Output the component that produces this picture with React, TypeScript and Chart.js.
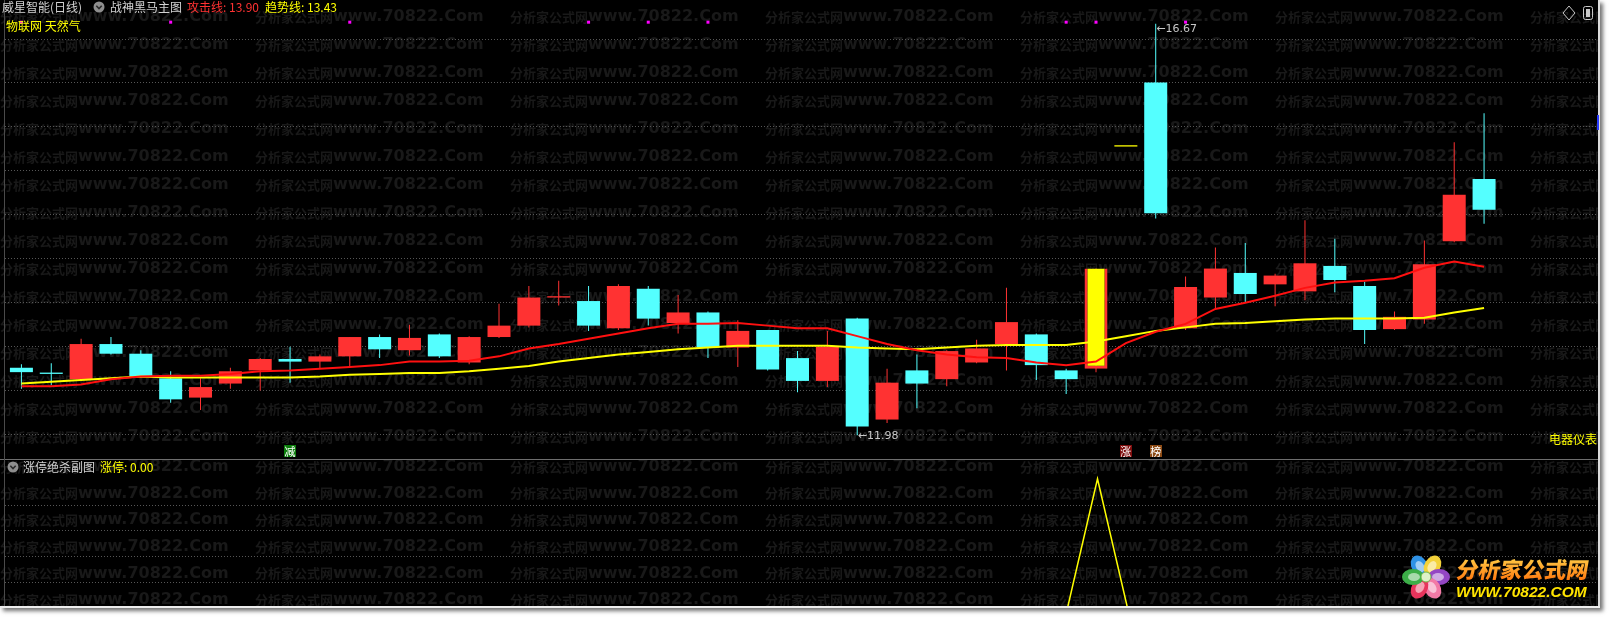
import React, { useEffect, useRef } from "react";
import { Chart, registerables } from "chart.js";

Chart.register(...registerables);

// ---------------- data ----------------
const stockTitle = "威星智能(日线)";
const mainIndicatorName = "战神黑马主图";
const subIndicatorName = "涨停绝杀副图";
const conceptTags = "物联网 天然气";
const industryTag = "电器仪表";

const opens = [12.75, 12.69, 12.62, 13.02, 12.91, 12.63, 12.41, 12.57, 12.72, 12.85, 12.82, 12.88, 13.10, 12.95, 13.13, 12.81, 13.10, 13.23, 13.55, 13.51, 13.20, 13.65, 13.26, 13.38, 12.98, 13.18, 12.86, 12.60, 13.31, 12.16, 12.72, 12.62, 12.81, 13.02, 13.13, 12.72, 12.74, 15.27, 16.00, 13.20, 13.55, 13.83, 13.70, 13.62, 13.91, 13.68, 13.19, 13.30, 14.19, 14.90];
const highs = [12.79, 12.80, 13.08, 13.10, 12.95, 12.71, 12.63, 12.75, 12.86, 12.99, 12.90, 13.10, 13.13, 13.24, 13.14, 13.11, 13.48, 13.68, 13.74, 13.68, 13.70, 13.68, 13.58, 13.39, 13.29, 13.18, 12.94, 13.17, 13.32, 12.74, 12.90, 12.95, 13.07, 13.66, 13.14, 12.74, 13.88, 15.27, 16.67, 13.79, 14.12, 14.17, 13.82, 14.43, 14.22, 13.73, 13.39, 14.20, 15.32, 15.65];
const lows = [12.51, 12.55, 12.60, 12.90, 12.64, 12.35, 12.27, 12.51, 12.49, 12.58, 12.74, 12.75, 12.86, 12.89, 12.86, 12.79, 13.09, 13.21, 13.46, 13.17, 13.18, 13.23, 13.14, 12.86, 12.76, 12.72, 12.47, 12.53, 11.98, 12.12, 12.29, 12.54, 12.80, 12.72, 12.61, 12.45, 12.70, 15.27, 14.45, 13.18, 13.42, 13.50, 13.45, 13.52, 13.61, 13.02, 13.18, 13.25, 14.18, 14.39];
const closes = [12.70, 12.68, 13.02, 12.91, 12.65, 12.39, 12.53, 12.71, 12.85, 12.82, 12.88, 13.10, 12.96, 13.09, 12.88, 13.10, 13.23, 13.55, 13.56, 13.23, 13.68, 13.31, 13.38, 12.98, 13.17, 12.73, 12.60, 12.99, 12.08, 12.58, 12.57, 12.94, 12.97, 13.27, 12.78, 12.62, 13.88, 15.27, 14.51, 13.67, 13.88, 13.59, 13.80, 13.94, 13.75, 13.18, 13.33, 13.93, 14.72, 14.55];

// 攻击线 (red) and 趋势线 (yellow)
const attackLine = [12.54, 12.54, 12.56, 12.62, 12.65, 12.66, 12.66, 12.68, 12.71, 12.72, 12.74, 12.76, 12.78, 12.82, 12.82, 12.83, 12.88, 12.97, 13.02, 13.08, 13.14, 13.20, 13.25, 13.25, 13.26, 13.23, 13.20, 13.20, 13.11, 13.02, 12.95, 12.90, 12.87, 12.86, 12.81, 12.78, 12.82, 13.03, 13.16, 13.25, 13.42, 13.49, 13.57, 13.66, 13.72, 13.74, 13.77, 13.89, 13.96, 13.90];
const trendLine = [12.57, 12.59, 12.61, 12.63, 12.65, 12.64, 12.64, 12.64, 12.64, 12.64, 12.65, 12.67, 12.68, 12.69, 12.69, 12.71, 12.74, 12.77, 12.82, 12.86, 12.90, 12.93, 12.96, 12.98, 13.00, 13.00, 13.00, 13.00, 12.98, 12.97, 12.96, 12.98, 13.00, 13.01, 13.01, 13.01, 13.05, 13.11, 13.17, 13.21, 13.25, 13.26, 13.28, 13.30, 13.31, 13.31, 13.31, 13.32, 13.38, 13.43];

// 涨停 sub-chart values
const limitUpFlags = [0, 0, 0, 0, 0, 0, 0, 0, 0, 0, 0, 0, 0, 0, 0, 0, 0, 0, 0, 0, 0, 0, 0, 0, 0, 0, 0, 0, 0, 0, 0, 0, 0, 0, 0, 0, 1, 0, 0, 0, 0, 0, 0, 0, 0, 0, 0, 0, 0, 0];

const signalDays = [0, 5, 11, 19, 21, 23, 35, 36, 39];
const limitUpDays = [36, 37];
const tagDays = [9, 37, 38];
const tagTexts = ["减", "涨", "榜"];
const tagColors = ["#0b7d0b", "#7d0c0c", "#8c4a14"];
const priceGridLevels = [12, 12.5, 13, 13.5, 14, 14.5, 15, 15.5, 16, 16.5];
const subGridLevels = [0.2, 0.4, 0.6, 0.8];

// ---------------- layout / style ----------------
const W = 1600;
const TOP_H = 459;
const BOT_H = 148;
const STEP = 30;
const FIRST_X = 17.5;
const X_MIN = -FIRST_X / STEP;
const X_MAX = (W - FIRST_X) / STEP;
const PRICE_PAD = 20;
const SIGNAL_LEVEL = 0.9597;
const SUB_MAX = 1.1455;

const RED = "#FF3232";
const CYAN = "#54FFFF";
const YELLOW = "#FFFF00";
const MAGENTA = "#FF00FF";
const GRID = "#565656";
const WM = "#191919";
const CJK = '"Noto Sans CJK SC", "Noto Sans", sans-serif';

const priceLow = Math.min(...lows);
const priceHigh = Math.max(...highs);
const pxPerUnit = (TOP_H - 2 * PRICE_PAD) / (priceHigh - priceLow);
const Y_MIN = priceLow - PRICE_PAD / pxPerUnit;
const Y_MAX = priceHigh + PRICE_PAD / pxPerUnit;

function drawWatermark(ctx: CanvasRenderingContext2D, rowStart: number, rowStep: number, rows: number) {
  ctx.save();
  ctx.fillStyle = WM;
  ctx.textBaseline = "middle";
  ctx.textAlign = "left";
  for (let r = 0; r < rows; r++) {
    for (let c = 0; c < 7; c++) {
      const x = c * 255;
      const y = rowStart + r * rowStep;
      ctx.font = `bold 13px ${CJK}`;
      ctx.fillText("分析家公式网", x, y);
      ctx.font = 'bold 16px "DejaVu Sans", sans-serif';
      ctx.fillText("www.70822.Com", x + 78, y);
    }
  }
  ctx.restore();
}

function drawDotted(ctx: CanvasRenderingContext2D, ys: number[]) {
  ctx.save();
  ctx.strokeStyle = GRID;
  ctx.lineWidth = 1;
  ctx.setLineDash([1, 2]);
  ys.forEach((y) => {
    const yy = Math.round(y) + 0.5;
    ctx.beginPath();
    ctx.moveTo(5, yy);
    ctx.lineTo(1598, yy);
    ctx.stroke();
  });
  ctx.restore();
}

function Txt(props: { x: number; top: number; color: string; size?: number; right?: boolean; children: React.ReactNode }) {
  const size = props.size || 12;
  const style: React.CSSProperties = {
    position: "absolute",
    top: props.top,
    color: props.color,
    fontSize: size,
    lineHeight: `${size}px`,
    fontFamily: CJK,
    whiteSpace: "nowrap",
  };
  if (props.right) style.right = W - props.x;
  else style.left = props.x;
  return <div style={style}>{props.children}</div>;
}

function CircleIcon({ x, y }: { x: number; y: number }) {
  return (
    <svg style={{ position: "absolute", left: x - 6, top: y - 6 }} width={12} height={12}>
      <circle cx={6} cy={6} r={5.5} fill="#8e8e8e" />
      <polyline points="3.3,4.8 6,7.5 8.7,4.8" fill="none" stroke="#2a2a2a" strokeWidth={1.6} />
    </svg>
  );
}

const petals = [
  { a: -120, c: "#2f92e6" },
  { a: -60, c: "#f4d23a" },
  { a: 0, c: "#9446c4" },
  { a: 60, c: "#f27aa6" },
  { a: 120, c: "#e8345c" },
  { a: 180, c: "#3cae48" },
];

export default function App() {
  const topRef = useRef<HTMLCanvasElement>(null);
  const botRef = useRef<HTMLCanvasElement>(null);

  useEffect(() => {
    document.body.style.margin = "0";
    const colorOf = (i: number) =>
      limitUpDays.includes(i) ? YELLOW : closes[i] >= opens[i] ? RED : CYAN;
    const wickColorOf = (i: number) => (limitUpDays.includes(i) ? RED : colorOf(i));

    const topPlugin = {
      id: "topDecor",
      beforeDraw(chart: any) {
        const ctx = chart.ctx as CanvasRenderingContext2D;
        ctx.save();
        ctx.fillStyle = "#000";
        ctx.fillRect(0, 0, chart.width, chart.height);
        ctx.restore();
        drawWatermark(ctx, 16.7, 28, 16);
        const ys = chart.scales.y;
        drawDotted(ctx, priceGridLevels.map((v) => ys.getPixelForValue(v)));
      },
      afterDatasetsDraw(chart: any) {
        const ctx = chart.ctx as CanvasRenderingContext2D;
        const xs = chart.scales.x;
        const ys = chart.scales.y;
        ctx.save();
        ctx.font = '11px "DejaVu Sans", sans-serif';
        ctx.fillStyle = "#C8C8C8";
        ctx.textBaseline = "middle";
        ctx.textAlign = "left";
        const li = lows.indexOf(priceLow);
        ctx.fillText("←" + priceLow.toFixed(2), xs.getPixelForValue(li) + 0.5, ys.getPixelForValue(priceLow) + 1);
        const hi = highs.indexOf(priceHigh);
        ctx.fillText("←" + priceHigh.toFixed(2), xs.getPixelForValue(hi) + 0.5, ys.getPixelForValue(priceHigh) + 5);
        ctx.font = `11px ${CJK}`;
        ctx.textAlign = "center";
        tagDays.forEach((d, k) => {
          const x = xs.getPixelForValue(d);
          const y = chart.height - 8;
          ctx.fillStyle = tagColors[k];
          ctx.fillRect(Math.round(x - 6), Math.round(y - 6), 12, 12);
          ctx.fillStyle = "#ffffff";
          ctx.fillText(tagTexts[k], x, y + 0.5);
        });
        ctx.restore();
      },
    };

    const top = new Chart(topRef.current as HTMLCanvasElement, {
      type: "bar",
      data: {
        datasets: [
          {
            type: "line",
            label: "攻击线",
            data: attackLine.map((v, i) => ({ x: i, y: v })),
            borderColor: "#FF1010",
            borderWidth: 2,
            pointRadius: 0,
            tension: 0,
            order: 0,
          },
          {
            type: "line",
            label: "趋势线",
            data: trendLine.map((v, i) => ({ x: i, y: v })),
            borderColor: YELLOW,
            borderWidth: 2,
            pointRadius: 0,
            tension: 0,
            order: 1,
          },
          {
            type: "scatter",
            label: "signal",
            yAxisID: "ysig",
            data: signalDays.map((d) => ({ x: d, y: SIGNAL_LEVEL })),
            pointStyle: "rect",
            pointRadius: 2.13,
            backgroundColor: MAGENTA,
            borderWidth: 0,
            order: 0,
          },
          {
            type: "bar",
            label: "body",
            data: opens.map((o, i) => ({ x: i, y: [o, closes[i]] })),
            backgroundColor: opens.map((_, i) => colorOf(i)),
            borderColor: opens.map((_, i) => (i === limitUpDays[0] ? RED : colorOf(i))),
            borderWidth: (c: any) =>
              c.dataIndex === limitUpDays[0] ? { top: 0, left: 3, right: 3, bottom: 3 } : 0,
            borderSkipped: false,
            barThickness: 23,
            minBarLength: 1.3,
            grouped: false,
            inflateAmount: 0,
            order: 2,
          },
          {
            type: "bar",
            label: "wick",
            data: lows.map((l, i) => ({ x: i, y: [l, highs[i]] })),
            backgroundColor: lows.map((_, i) => wickColorOf(i)),
            borderWidth: 0,
            barThickness: 1,
            grouped: false,
            inflateAmount: 0,
            order: 3,
          },
        ] as any,
      },
      options: {
        animation: false,
        responsive: false,
        maintainAspectRatio: false,
        events: [],
        layout: { padding: 0 },
        plugins: { legend: { display: false }, tooltip: { enabled: false } },
        scales: {
          x: { type: "linear", min: X_MIN, max: X_MAX, display: false, offset: false },
          y: { type: "linear", min: Y_MIN, max: Y_MAX, display: false },
          ysig: { type: "linear", min: 0, max: 1, display: false },
        },
      } as any,
      plugins: [topPlugin],
    });

    const botPlugin = {
      id: "botDecor",
      beforeDraw(chart: any) {
        const ctx = chart.ctx as CanvasRenderingContext2D;
        ctx.save();
        ctx.fillStyle = "#000";
        ctx.fillRect(0, 0, chart.width, chart.height);
        ctx.restore();
        drawWatermark(ctx, 6.7, 26.7, 6);
        const ys = chart.scales.y;
        drawDotted(ctx, subGridLevels.map((v) => ys.getPixelForValue(v)));
      },
    };

    const bot = new Chart(botRef.current as HTMLCanvasElement, {
      type: "line",
      data: {
        datasets: [
          {
            label: "涨停",
            data: limitUpFlags.map((v, i) => ({ x: i, y: v })),
            borderColor: YELLOW,
            borderWidth: 1.5,
            pointRadius: 0,
            tension: 0,
          },
        ],
      },
      options: {
        animation: false,
        responsive: false,
        maintainAspectRatio: false,
        events: [],
        layout: { padding: 0 },
        plugins: { legend: { display: false }, tooltip: { enabled: false } },
        scales: {
          x: { type: "linear", min: X_MIN, max: X_MAX, display: false, offset: false },
          y: { type: "linear", min: 0, max: SUB_MAX, display: false },
        },
      } as any,
      plugins: [botPlugin],
    });

    return () => {
      top.destroy();
      bot.destroy();
    };
  }, []);

  const last = attackLine.length - 1;

  return (
    <div style={{ position: "absolute", left: 0, top: 0, width: 1609, height: 617, background: "#ffffff", overflow: "hidden" }}>
      <div
        style={{
          position: "absolute",
          left: 0,
          top: 0,
          width: W,
          height: 608,
          background: "#000",
          boxShadow: "3px 3px 4px rgba(0,0,0,0.55)",
        }}
      >
        <canvas ref={topRef} width={W} height={TOP_H} style={{ position: "absolute", left: 0, top: 0, width: W, height: TOP_H }} />
        <canvas ref={botRef} width={W} height={BOT_H} style={{ position: "absolute", left: 0, top: 460, width: W, height: BOT_H }} />

        {/* frame lines */}
        <div style={{ position: "absolute", left: 0, top: 459, width: W, height: 1, background: "#6e6e6e" }} />
        <div style={{ position: "absolute", left: 4, top: 0, width: 1, height: 606, background: "#4a4a4a" }} />
        <div style={{ position: "absolute", left: 1598, top: 0, width: 2, height: 608, background: "#dcdcdc" }} />
        <div style={{ position: "absolute", left: 0, top: 606, width: W, height: 2, background: "#eeeeee" }} />
        <div style={{ position: "absolute", left: 1597, top: 115, width: 2, height: 15, background: "#2a3cff" }} />

        {/* main header */}
        <Txt x={2} top={1} color="#d2d2d2">{stockTitle}</Txt>
        <CircleIcon x={99} y={7} />
        <Txt x={110} top={1} color="#d2d2d2">{mainIndicatorName}</Txt>
        <Txt x={187} top={1} color={RED}>{`攻击线: ${attackLine[last].toFixed(2)}`}</Txt>
        <Txt x={265} top={1} color={YELLOW}>{`趋势线: ${trendLine[last].toFixed(2)}`}</Txt>
        <Txt x={6} top={20} color={YELLOW}>{conceptTags}</Txt>
        <Txt x={1597} top={433} color={YELLOW} right>{industryTag}</Txt>

        {/* top-right icons */}
        <svg style={{ position: "absolute", left: 1562, top: 5 }} width={14} height={16}>
          <polygon points="7,1 13,8 7,15 1,8" fill="none" stroke="#c8c8c8" strokeWidth={1} />
        </svg>
        <svg style={{ position: "absolute", left: 1582, top: 5 }} width={12} height={16}>
          <rect x={1.5} y={1.5} width={9} height={13} rx={2} fill="none" stroke="#c8c8c8" strokeWidth={1} />
          <rect x={4} y={4} width={4} height={8} fill="#c8c8c8" />
        </svg>

        {/* sub header */}
        <CircleIcon x={12.5} y={467} />
        <Txt x={23} top={461} color="#d2d2d2">{subIndicatorName}</Txt>
        <Txt x={100} top={461} color={YELLOW}>{`涨停: ${limitUpFlags[last].toFixed(2)}`}</Txt>

        {/* logo */}
        <svg style={{ position: "absolute", left: 1399, top: 552 }} width={54} height={50} viewBox="0 0 54 50">
          {petals.map((p, k) => {
            const rad = (p.a * Math.PI) / 180;
            const cx = 27 + 13 * Math.cos(rad);
            const cy = 25 + 13 * Math.sin(rad);
            return (
              <g key={k} transform={`rotate(${p.a} ${cx} ${cy})`}>
                <ellipse cx={cx} cy={cy} rx={11} ry={8} fill={p.c} />
                <ellipse cx={cx - 1} cy={cy} rx={6} ry={4} fill="#ffffff" opacity={0.55} />
              </g>
            );
          })}
          <circle cx={27} cy={25} r={5} fill="#dff2c8" stroke="#6fb84a" strokeWidth={1} />
        </svg>
        <div
          style={{
            position: "absolute",
            left: 1457,
            top: 556,
            fontFamily: CJK,
            fontWeight: 900,
            fontSize: 22,
            lineHeight: "24px",
            whiteSpace: "nowrap",
            transform: "skewX(-10deg)",
            background: "linear-gradient(#ffd24a, #ff7a10)",
            WebkitBackgroundClip: "text",
            color: "transparent",
          }}
        >
          分析家公式网
        </div>
        <div
          style={{
            position: "absolute",
            left: 1456,
            top: 584,
            fontFamily: '"Liberation Sans", Arial, sans-serif',
            fontWeight: 700,
            fontStyle: "italic",
            fontSize: 15.5,
            lineHeight: "16px",
            color: "#ffe400",
            whiteSpace: "nowrap",
          }}
        >
          WWW.70822.COM
        </div>
      </div>
    </div>
  );
}
